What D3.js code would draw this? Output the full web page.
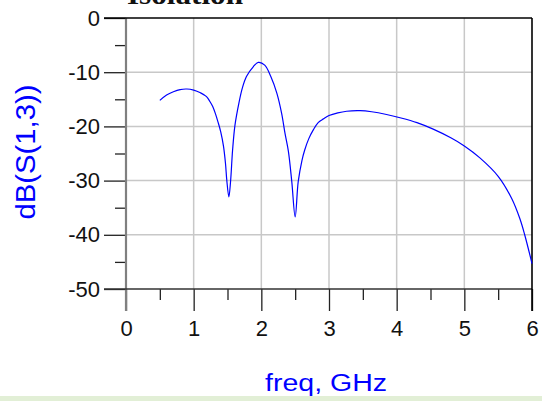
<!DOCTYPE html>
<html lang="en">
<head>
    <meta charset="UTF-8">
    <title>Isolation</title>
    <script src="https://cdn.jsdelivr.net/npm/d3@7"></script>
    <style>
        body { margin: 0; background: white; }
        svg { display: block; font-family: Arial, "Liberation Sans", sans-serif; }
    </style>
</head>
<body>
<script>
    // freq in GHz, dB(S(1,3))
    let freq = [0.50, 0.60, 0.70, 0.80, 0.90, 1.00, 1.10, 1.19, 1.24, 1.28, 1.32, 1.36, 1.40, 1.44, 1.47, 1.49, 1.52,
                1.545, 1.575, 1.61, 1.67, 1.72, 1.78, 1.88, 1.955, 2.05, 2.14, 2.23, 2.30, 2.35, 2.40, 2.45, 2.50,
                2.545, 2.60, 2.64, 2.70, 2.77, 2.84, 2.92, 3.00, 3.13, 3.26, 3.46, 3.63, 3.85, 4.05, 4.30, 4.54, 4.80, 5.00,
                5.23, 5.50, 5.70, 5.82, 5.89, 6.00]
    let s13 = [-15.2, -14.2, -13.6, -13.2, -13.1, -13.3, -13.8, -14.5, -15.4, -16.3, -17.6, -19.2, -21.0, -23.6, -26.8, -30.0, -33.0,
               -30.2, -24.4, -19.8, -15.6, -12.9, -10.8, -9.0, -8.2, -8.7, -10.8, -13.9, -17.6, -21.3, -24.6, -30.2, -36.7,
               -30.2, -26.3, -24.4, -22.3, -20.6, -19.3, -18.6, -18.0, -17.5, -17.2, -17.1, -17.3, -17.8, -18.4, -19.3, -20.5, -22.1, -23.6,
               -25.8, -29.2, -33.3, -37.0, -39.9, -45.3]
    let xTicks = [0, 1, 2, 3, 4, 5, 6]
    let yTicks = [0, -10, -20, -30, -40, -50]

    let w = 542, h = 401
    let pLeft = 126, pRight = 532, pTop = 18, pBottom = 289
    let sans = 'Arial, "Liberation Sans", sans-serif'

    let svg = d3.select('body').append('svg')
        .attr('width', w)
        .attr('height', h)

    let xScale = d3.scaleLinear().domain([0, 6]).range([pLeft, pRight])
    let yScale = d3.scaleLinear().domain([-50, 0]).range([pBottom, pTop])

    // plain hyphen, no decimals
    let fmt = d => String(d)

    // grid
    svg.append('g')
        .selectAll('line')
        .data(xTicks.slice(1, -1))
        .enter().append('line')
        .attr('x1', d => xScale(d)).attr('x2', d => xScale(d))
        .attr('y1', pTop).attr('y2', pBottom)
        .attr('stroke', '#c8c8c8').attr('stroke-width', 1.5)
    svg.append('g')
        .selectAll('line')
        .data(yTicks.slice(1, -1))
        .enter().append('line')
        .attr('x1', pLeft).attr('x2', pRight)
        .attr('y1', d => yScale(d)).attr('y2', d => yScale(d))
        .attr('stroke', '#c8c8c8').attr('stroke-width', 1.5)

    // x axis
    let xAxis = d3.axisBottom(xScale).tickValues(xTicks).tickSize(22).tickPadding(9).tickFormat(fmt)
    let gx = svg.append('g')
        .attr('transform', 'translate(0,' + pBottom + ')')
        .call(xAxis)
        .attr('font-family', sans)
    gx.select('.domain').remove()
    gx.selectAll('.tick line').attr('stroke', '#222').attr('stroke-width', 1.3)
    gx.selectAll('.tick text').attr('fill', '#111').style('font-size', '22px')
    let gxMinor = svg.append('g')
        .attr('transform', 'translate(0,' + pBottom + ')')
        .call(d3.axisBottom(xScale).tickValues(d3.range(0.5, 6, 1)).tickSize(11).tickFormat(''))
    gxMinor.select('.domain').remove()
    gxMinor.selectAll('.tick line').attr('stroke', '#222').attr('stroke-width', 1.3)

    // y axis
    let yAxis = d3.axisLeft(yScale).tickValues(yTicks).tickSize(22).tickPadding(4).tickFormat(fmt)
    let gy = svg.append('g')
        .attr('transform', 'translate(' + pLeft + ',0)')
        .call(yAxis)
        .attr('font-family', sans)
    gy.select('.domain').remove()
    gy.selectAll('.tick line').attr('stroke', '#222').attr('stroke-width', 1.3)
    gy.selectAll('.tick text').attr('fill', '#111').style('font-size', '22px')
    let gyMinor = svg.append('g')
        .attr('transform', 'translate(' + pLeft + ',0)')
        .call(d3.axisLeft(yScale).tickValues(d3.range(-45, 0, 10)).tickSize(11).tickFormat(''))
    gyMinor.select('.domain').remove()
    gyMinor.selectAll('.tick line').attr('stroke', '#222').attr('stroke-width', 1.3)

    // frame
    svg.append('line').attr('x1', pLeft).attr('x2', pLeft).attr('y1', pTop).attr('y2', pBottom + 22)
        .attr('stroke', '#808080').attr('stroke-width', 2.2)
    svg.append('line').attr('x1', pLeft - 22).attr('x2', pRight).attr('y1', pBottom).attr('y2', pBottom)
        .attr('stroke', '#333').attr('stroke-width', 1.5)
    svg.append('line').attr('x1', pLeft - 22).attr('x2', pRight).attr('y1', pTop).attr('y2', pTop)
        .attr('stroke', '#000').attr('stroke-width', 1.6)
    svg.append('line').attr('x1', pRight).attr('x2', pRight).attr('y1', pTop).attr('y2', pBottom + 22)
        .attr('stroke', '#000').attr('stroke-width', 1.6)

    // trace
    let pts = freq.map((f, i) => [f, s13[i]])
    let line = d3.line()
        .x(d => xScale(d[0]))
        .y(d => yScale(d[1]))
        .curve(d3.curveCatmullRom.alpha(0.5))
    svg.append('path')
        .datum(pts)
        .attr('d', line)
        .attr('fill', 'none')
        .attr('stroke', '#0000ff')
        .attr('stroke-width', 1.2)

    // labels
    svg.append('text')
        .attr('x', 127).attr('y', 4)
        .attr('textLength', 116).attr('lengthAdjust', 'spacingAndGlyphs')
        .style('font-family', '"Liberation Serif", serif')
        .style('font-weight', 'bold')
        .style('font-size', '27px')
        .attr('fill', '#111')
        .text('Isolation')

    svg.append('text')
        .attr('transform', 'translate(35,152) rotate(-90)')
        .attr('text-anchor', 'middle')
        .attr('textLength', 135).attr('lengthAdjust', 'spacingAndGlyphs')
        .style('font-size', '27px')
        .attr('fill', '#0000ff')
        .text('dB(S(1,3))')

    svg.append('text')
        .attr('x', 265).attr('y', 391)
        .attr('textLength', 122).attr('lengthAdjust', 'spacingAndGlyphs')
        .style('font-size', '23px')
        .attr('fill', '#0000ff')
        .text('freq, GHz')

    // bottom band
    svg.append('rect')
        .attr('x', 0).attr('y', 396).attr('width', w).attr('height', 5)
        .attr('fill', '#e2efd6')
</script>
</body>
</html>
